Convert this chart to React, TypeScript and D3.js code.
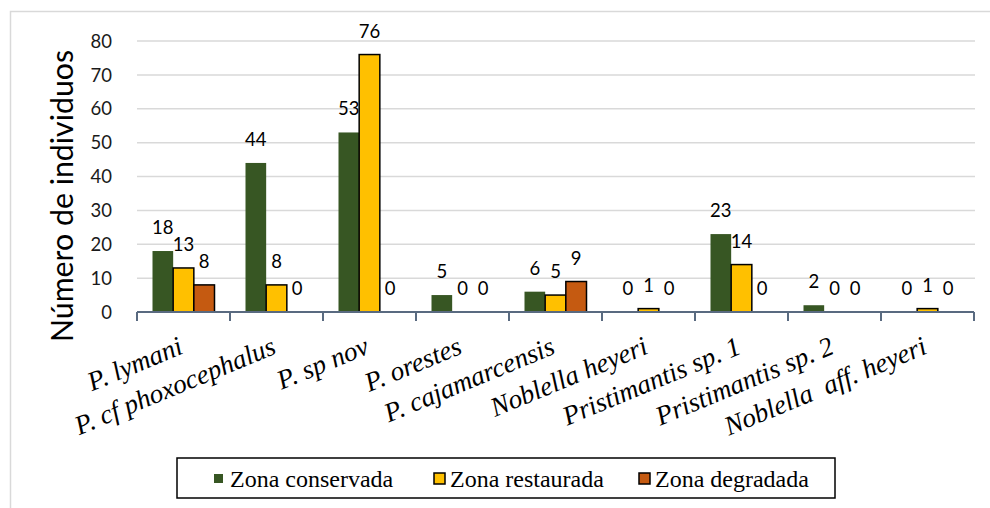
import React from "react";
import * as d3 from "d3";

const categories = [
  "P. lymani",
  "P. cf phoxocephalus",
  "P. sp nov",
  "P. orestes",
  "P. cajamarcensis",
  "Noblella heyeri",
  "Pristimantis sp. 1",
  "Pristimantis sp. 2",
  "Noblella  aff. heyeri",
];
const seriesNames = ["Zona conservada", "Zona restaurada", "Zona degradada"];
const conservada = [18, 44, 53, 5, 6, 0, 23, 2, 0];
const restaurada = [13, 8, 76, 0, 5, 1, 14, 0, 1];
const degradada = [8, 0, 0, 0, 9, 0, 0, 0, 0];
const yTicks = [0, 10, 20, 30, 40, 50, 60, 70, 80];
const yTitle = "Número de individuos";

const colors = ["#375623", "#FFC000", "#C55A11"];
const strokes = ["none", "#000", "#000"];

export default function App() {
  const W = 990, H = 508;
  const left = 137, right = 974, top = 41, bottom = 312;
  const x = d3.scaleBand<string>().domain(categories).range([left, right]).paddingInner(0).paddingOuter(0);
  const xi = d3.scaleBand<string>().domain(seriesNames).range([0, x.bandwidth()]).paddingInner(0).paddingOuter(0.75);
  const y = d3.scaleLinear().domain([0, 80]).range([bottom, top]);
  const data = [conservada, restaurada, degradada];
  const numFont = "Lato, 'Open Sans', sans-serif";
  const catFont = "'Times New Roman', 'Liberation Serif', 'DejaVu Serif', serif";

  return (
    <svg width={W} height={H} style={{ position: "absolute", left: 0, top: 0, background: "#fff" }}>
      <rect x={10.5} y={11.5} width={990} height={510} fill="#fff" stroke="#D9D9D9" strokeWidth={1.5} />
      {yTicks.filter((t) => t > 0).map((t) => (
        <line key={t} x1={left} x2={right + 1} y1={y(t)} y2={y(t)} stroke="#D9D9D9" strokeWidth={1.5} />
      ))}
      {yTicks.map((t) => (
        <text key={"yl" + t} x={112} y={y(t) + 6.7} textAnchor="end" fontFamily={numFont} fontSize={18.5} fill="#1a1a1a">
          {t}
        </text>
      ))}
      <text
        transform={`translate(73, ${(50 + 342) / 2}) rotate(-90)`}
        textAnchor="middle"
        fontFamily={numFont}
        fontSize={30.3}
        fill="#000"
      >
        {yTitle}
      </text>
      {categories.map((c, i) => (
        <g key={c} transform={`translate(${x(c)},0)`}>
          {data.map((arr, s) =>
            arr[i] > 0 ? (
              <rect
                key={s}
                x={xi(seriesNames[s])}
                y={y(arr[i])}
                width={xi.bandwidth()}
                height={y(0) - y(arr[i])}
                fill={colors[s]}
                stroke={strokes[s]}
                strokeWidth={1.5}
              />
            ) : null
          )}
          {data.map((arr, s) => (
            <text
              key={"l" + s}
              x={(xi(seriesNames[s]) as number) + xi.bandwidth() / 2}
              y={y(arr[i]) - 17}
              textAnchor="middle"
              fontFamily={numFont}
              fontSize={18.5}
              fill="#000"
            >
              {arr[i]}
            </text>
          ))}
        </g>
      ))}
      <line x1={left} x2={right} y1={bottom} y2={bottom} stroke="#596A80" strokeWidth={2} />
      {d3.range(categories.length + 1).map((k) => {
        const xx = left + k * x.step();
        return <line key={"t" + k} x1={xx} x2={xx} y1={bottom} y2={bottom + 9} stroke="#596A80" strokeWidth={2} />;
      })}
      {categories.map((c) => (
        <text
          key={"c" + c}
          transform={`translate(${(x(c) as number) + x.bandwidth() / 2 + 1}, 353) rotate(-22.5)`}
          textAnchor="end"
          fontFamily={catFont}
          fontStyle="italic"
          fontSize={27}
          fill="#000"
          style={{ whiteSpace: "pre" }}
        >
          {c}
        </text>
      ))}
      <rect x={177} y={458} width={658} height={40} fill="#fff" stroke="#000" strokeWidth={1.5} />
      <rect x={214} y={474} width={9} height={9} fill={colors[0]} />
      <text x={230} y={487} fontFamily={catFont} fontSize={24} fill="#000">{seriesNames[0]}</text>
      <rect x={434} y={473} width={11} height={11} fill={colors[1]} stroke="#000" strokeWidth={1.5} />
      <text x={450} y={487} fontFamily={catFont} fontSize={24} fill="#000">{seriesNames[1]}</text>
      <rect x={639} y={473} width={11} height={11} fill={colors[2]} stroke="#000" strokeWidth={1.5} />
      <text x={655} y={487} fontFamily={catFont} fontSize={24} fill="#000">{seriesNames[2]}</text>
    </svg>
  );
}
